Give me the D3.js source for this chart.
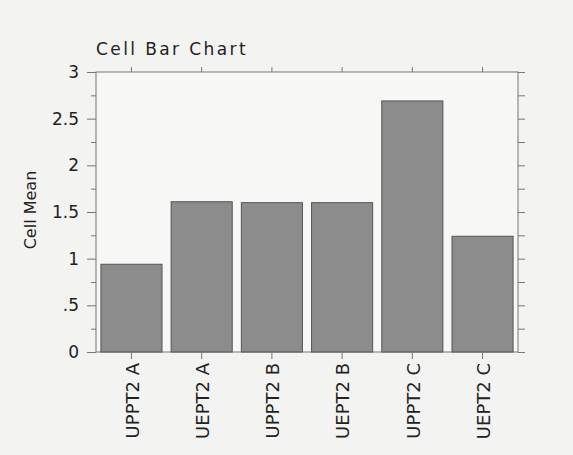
<!DOCTYPE html>
<html>
<head>
<meta charset="utf-8">
<script src="https://cdn.jsdelivr.net/npm/d3@7"></script>
<style>
  body { margin: 0; background: #f3f3f1; }
  text { font-family: "DejaVu Sans", sans-serif; fill: #222; }
</style>
</head>
<body>
<svg id="chart" width="573" height="455"></svg>
<script>
const categories = ['UPPT2 A', 'UEPT2 A', 'UPPT2 B', 'UEPT2 B', 'UPPT2 C', 'UEPT2 C'];
const cellMeans = [0.94, 1.61, 1.6, 1.6, 2.69, 1.24];
const yTicks = [0, 0.5, 1, 1.5, 2, 2.5, 3];
const yTickLabels = ['0', '.5', '1', '1.5', '2', '2.5', '3'];
const yMinorTicks = [0.25, 0.75, 1.25, 1.75, 2.25, 2.75];

const margins = { top: 72, right: 55, bottom: 103, left: 96 },
  width = 573 - margins.left - margins.right,
  height = 455 - margins.top - margins.bottom;

const svg = d3.select('#chart')
  .append('g')
  .attr('transform', 'translate(' + margins.left + ',' + margins.top + ')');

const x = d3.scaleBand().domain(categories).range([0, width]).paddingInner(0.13).paddingOuter(0.07),
  y = d3.scaleLinear().domain([0, 3]).range([height, 0]);

// frame
svg.append('rect')
  .attr('width', width).attr('height', height)
  .attr('fill', '#f7f7f5').attr('stroke', '#777').attr('stroke-width', 1);

// bars
svg.selectAll('.bar')
  .data(cellMeans)
  .enter()
  .append('rect')
  .attr('class', 'bar')
  .attr('x', (d, i) => x(categories[i]))
  .attr('width', x.bandwidth())
  .attr('y', d => y(d))
  .attr('height', d => height - y(d))
  .attr('fill', '#8c8c8c')
  .attr('stroke', '#555')
  .attr('stroke-width', 1);

const styleAxis = g => {
  g.select('.domain').remove();
  g.selectAll('line').attr('stroke', '#777');
};

// left axis: labelled majors + minor ticks
svg.append('g')
  .call(d3.axisLeft(y).tickValues(yTicks).tickSize(9).tickPadding(8)
    .tickFormat((d, i) => yTickLabels[i]))
  .call(styleAxis)
  .selectAll('text').style('font-size', '17px');
svg.append('g')
  .call(d3.axisLeft(y).tickValues(yMinorTicks).tickSize(5).tickFormat(''))
  .call(styleAxis);

// right axis
svg.append('g')
  .attr('transform', 'translate(' + width + ',0)')
  .call(d3.axisRight(y).tickValues(yTicks.concat(yMinorTicks)).tickSize(7).tickFormat(''))
  .call(styleAxis);

// top axis
svg.append('g')
  .call(d3.axisTop(x).tickSize(5).tickFormat(''))
  .call(styleAxis);

// bottom axis with rotated labels
svg.append('g')
  .attr('transform', 'translate(0,' + height + ')')
  .call(d3.axisBottom(x).tickSize(7))
  .call(styleAxis)
  .selectAll('text')
  .style('font-size', '18px')
  .style('text-anchor', 'end')
  .attr('dx', '-11px')
  .attr('dy', '.4em')
  .attr('x', 0).attr('y', 0)
  .attr('transform', 'rotate(-90)');

// title
svg.append('text')
  .attr('x', 0).attr('y', -17)
  .style('font-size', '17px')
  .style('letter-spacing', '2.4px')
  .text('Cell Bar Chart');

// y label
svg.append('text')
  .attr('transform', 'translate(' + (-60) + ',' + (height / 2 - 2) + ') rotate(-90)')
  .attr('text-anchor', 'middle')
  .style('font-size', '16px')
  .text('Cell Mean');
</script>
</body>
</html>
